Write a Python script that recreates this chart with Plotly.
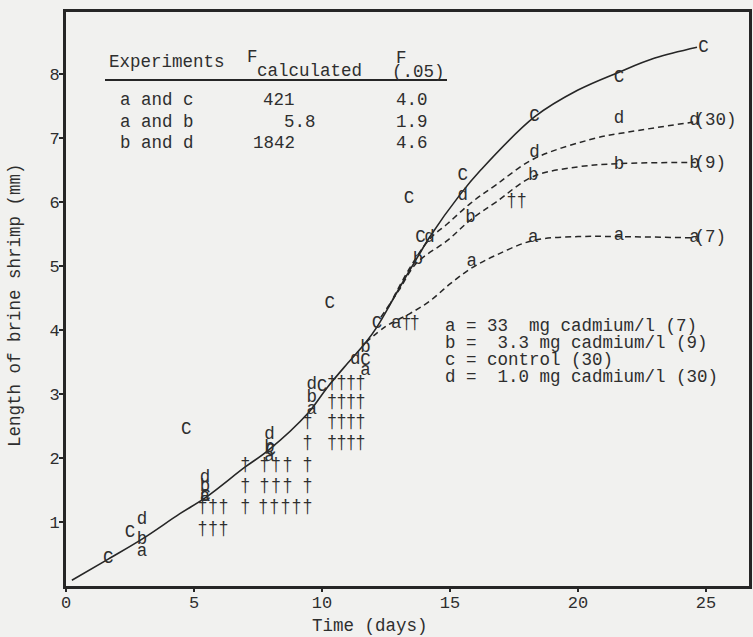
import plotly.graph_objects as go

# ---------------- data ----------------
# fitted curves
curve_c_x = [0.23, 1.65, 3.0, 4.45, 5.45, 7.0, 7.9, 9.45, 10.2, 11.0, 11.7, 12.15, 12.8, 13.2, 13.75, 14.2, 15.4, 16.2, 18.3, 20.0, 21.6, 23.0, 24.65]
curve_c_y = [0.09, 0.42, 0.74, 1.13, 1.38, 1.86, 2.12, 2.7, 3.1, 3.48, 3.8, 4.05, 4.5, 4.78, 5.15, 5.45, 6.12, 6.5, 7.33, 7.75, 8.03, 8.25, 8.42]

curve_a_x = [11.7, 12.5, 13.4, 14.2, 15.0, 15.85, 16.8, 18.25, 20.0, 21.6, 24.6]
curve_a_y = [3.8, 4.06, 4.25, 4.45, 4.72, 4.97, 5.17, 5.4, 5.46, 5.46, 5.44]

curve_b_x = [12.3, 13.0, 13.7, 14.9, 15.8, 16.8, 18.25, 20.0, 21.6, 24.6]
curve_b_y = [4.2, 4.62, 5.05, 5.4, 5.72, 6.0, 6.4, 6.55, 6.6, 6.62]

curve_d_x = [12.6, 13.4, 14.2, 14.9, 15.8, 16.8, 18.3, 20.7, 21.6, 24.5]
curve_d_y = [4.36, 4.95, 5.42, 5.66, 5.98, 6.27, 6.68, 7.0, 7.07, 7.25]

# observed points, labelled by experiment letter
pts_c_x = [1.65, 2.5, 4.7, 5.45, 8.0, 10.0, 10.3, 11.7, 12.15, 13.4, 13.85, 15.5, 18.3, 21.6, 24.9]
pts_c_y = [0.42, 0.83, 2.45, 1.4, 2.12, 3.11, 4.42, 3.52, 4.1, 6.06, 5.44, 6.42, 7.33, 7.95, 8.42]

pts_d_x = [2.97, 5.43, 7.95, 9.6, 11.3, 14.2, 15.5, 18.3, 21.6, 24.55]
pts_d_y = [1.03, 1.70, 2.36, 3.14, 3.53, 5.44, 6.1, 6.77, 7.3, 7.28]

pts_b_x = [2.97, 5.43, 7.95, 9.6, 11.7, 13.75, 15.8, 18.25, 21.6, 24.55]
pts_b_y = [0.72, 1.55, 2.17, 2.94, 3.72, 5.1, 5.75, 6.42, 6.58, 6.6]

pts_a_x = [2.97, 5.43, 7.95, 9.6, 11.7, 12.9, 15.85, 18.25, 21.6, 24.55]
pts_a_y = [0.53, 1.39, 2.02, 2.75, 3.37, 4.1, 5.07, 5.44, 5.48, 5.44]

# deaths (daggers)
dag_x = [5.33, 5.74, 6.15, 5.33, 5.74, 6.15,
         7.0, 7.0, 7.0,
         7.75, 8.2, 8.65, 7.75, 8.2, 8.65,
         7.71, 8.14, 8.57, 9.0, 9.43,
         9.43, 9.43, 9.43, 9.43,
         10.39, 10.76, 11.13, 11.5, 10.39, 10.76, 11.13, 11.5,
         10.39, 10.76, 11.13, 11.5, 10.39, 10.76, 11.13, 11.5,
         13.3, 13.62, 17.4, 17.8]
dag_y = [1.22, 1.22, 1.22, 0.875, 0.875, 0.875,
         1.875, 1.55, 1.22,
         1.875, 1.875, 1.875, 1.55, 1.55, 1.55,
         1.22, 1.22, 1.22, 1.22, 1.22,
         2.56, 2.23, 1.875, 1.55,
         3.17, 3.17, 3.17, 3.17, 2.86, 2.86, 2.86, 2.86,
         2.55, 2.55, 2.55, 2.55, 2.23, 2.23, 2.23, 2.23,
         4.1, 4.1, 6.0, 6.0]

# end-of-curve sample sizes
end_x = [24.55, 24.55, 24.55]
end_y = [7.28, 6.6, 5.44]
end_labels = ["(30)", "(9)", "(7)"]

x_ticks = [0, 5, 10, 15, 20, 25]
y_ticks = [1, 2, 3, 4, 5, 6, 7, 8]

table_rows = ["a and c", "a and b", "b and d"]
table_fcalc = ["421", "5.8", "1842"]
table_f05 = ["4.0", "1.9", "4.6"]

key_lines = ["a = 33  mg cadmium/l (7)",
             "b =  3.3 mg cadmium/l (9)",
             "c = control (30)",
             "d =  1.0 mg cadmium/l (30)"]

# ---------------- styling ----------------
FONT = "Liberation Mono, DejaVu Sans Mono, monospace"
TXT = "#2e2e2e"
INK = "#262626"
BG = "#f1f1ef"
FS = 17.5

W, H = 753, 637
L, R, T, B = 66, 4, 12, 51
PW, PH = W - L - R, H - T - B


def px(xp):
    return (xp - L) / PW


def py(yp):
    return (H - B - yp) / PH


fig = go.Figure()

fig.add_trace(go.Scatter(x=curve_c_x, y=curve_c_y, mode="lines",
                         line=dict(color=INK, width=1.6, shape="spline", smoothing=1.0),
                         hoverinfo="skip", showlegend=False))
for cx, cy in [(curve_d_x, curve_d_y), (curve_b_x, curve_b_y), (curve_a_x, curve_a_y)]:
    fig.add_trace(go.Scatter(x=cx, y=cy, mode="lines",
                             line=dict(color=INK, width=1.5, shape="spline", smoothing=1.0,
                                       dash="6px,4px"),
                             hoverinfo="skip", showlegend=False))

for xs, ys, lab in [(pts_c_x, pts_c_y, "C"), (pts_d_x, pts_d_y, "d"),
                    (pts_b_x, pts_b_y, "b"), (pts_a_x, pts_a_y, "a")]:
    fig.add_trace(go.Scatter(x=xs, y=ys, mode="text", text=[lab] * len(xs),
                             textposition="middle center",
                             textfont=dict(family=FONT, size=FS, color=TXT),
                             showlegend=False))

fig.add_trace(go.Scatter(x=dag_x, y=dag_y, mode="text", text=["\u2020"] * len(dag_x),
                         textposition="middle center",
                         textfont=dict(family=FONT, size=FS, color=TXT),
                         showlegend=False))

fig.add_trace(go.Scatter(x=end_x, y=end_y, mode="text", text=end_labels,
                         textposition="middle right",
                         textfont=dict(family=FONT, size=FS, color=TXT),
                         showlegend=False))

ann = []


def add_text(t, xp, yp, xanchor="left"):
    ann.append(dict(text=t, x=px(xp), y=py(yp), xref="paper", yref="paper",
                    xanchor=xanchor, yanchor="middle", showarrow=False,
                    font=dict(family=FONT, size=FS, color=TXT)))


# table
add_text("Experiments", 107, 62)
add_text("F", 245, 57)
add_text("calculated", 255, 71)
add_text("F", 394, 58)
add_text("(.05)", 447, 72, xanchor="right")
row_y = [100, 122, 143]
fcalc_right = [297, 318, 297]
for i in range(3):
    add_text(table_rows[i], 118, row_y[i])
    add_text(table_fcalc[i], fcalc_right[i], row_y[i], xanchor="right")
    add_text(table_f05[i], 394, row_y[i])

# key
for i, line in enumerate(key_lines):
    add_text(line, 443, 326 + i * 17)

# axis titles
ann.append(dict(text="Time (days)", x=px(370), y=py(626), xref="paper", yref="paper",
                xanchor="center", yanchor="middle", showarrow=False,
                font=dict(family=FONT, size=FS, color=TXT)))
ann.append(dict(text="Length of brine shrimp (mm)", x=px(15), y=py(305), xref="paper", yref="paper",
                xanchor="center", yanchor="middle", showarrow=False, textangle=-90,
                font=dict(family=FONT, size=FS, color=TXT)))

shapes = [dict(type="line", xref="paper", yref="paper", x0=px(105), x1=px(447),
               y0=py(80), y1=py(80), line=dict(color=INK, width=2))]

fig.update_layout(
    width=W, height=H,
    margin=dict(l=L, r=R, t=T, b=B, autoexpand=False),
    paper_bgcolor=BG, plot_bgcolor=BG,
    annotations=ann, shapes=shapes,
    showlegend=False,
    xaxis=dict(range=[0, 26.68], tickvals=x_ticks, ticktext=[str(v) for v in x_ticks],
               showgrid=False, zeroline=False, showline=True, mirror=True,
               linecolor=INK, linewidth=3, ticks="outside", ticklen=3, tickwidth=2,
               ticklabelstandoff=-4, automargin=False,
               tickcolor=INK, tickfont=dict(family=FONT, size=17, color=TXT)),
    yaxis=dict(range=[0, 8.97], tickvals=y_ticks, ticktext=[str(v) for v in y_ticks],
               showgrid=False, zeroline=False, showline=True, mirror=True,
               linecolor=INK, linewidth=3, ticks="outside", ticklen=4, tickwidth=2,
               ticklabelstandoff=-4, automargin=False,
               tickcolor=INK, tickfont=dict(family=FONT, size=17, color=TXT)),
)

fig.write_html("out.html", config={"displayModeBar": False},
               post_script="document.body.style.margin='0';document.body.style.background='%s';" % BG)
